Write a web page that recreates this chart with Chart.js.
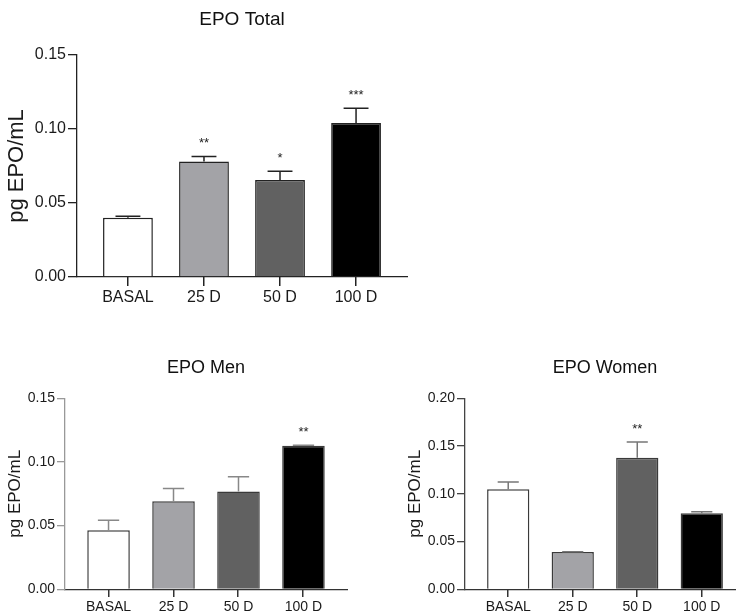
<!DOCTYPE html>
<html>
<head>
<meta charset="utf-8">
<title>EPO</title>
<script src="https://cdn.jsdelivr.net/npm/chart.js@4.4.1/dist/chart.umd.min.js"></script>
<style>
  html, body { margin: 0; padding: 0; background: #fff; overflow: hidden; width: 736px; height: 613px; }
  canvas { position: absolute; }
</style>
</head>
<body>
<canvas id="chartTotal" width="430" height="310" style="left:0;top:0"></canvas>
<canvas id="chartMen" width="360" height="263" style="left:0;top:350px"></canvas>
<canvas id="chartWomen" width="385" height="263" style="left:380px;top:350px"></canvas>
<script>
// grupos e valores
const groups = ['BASAL', '25 D', '50 D', '100 D'];

const totalMeans = [0.040, 0.078, 0.0655, 0.104];
const totalErrors = [0.001, 0.0035, 0.006, 0.010];
const totalStars = ['', '**', '*', '***'];
const totalTicks = [0, 0.05, 0.10, 0.15];

const menMeans = [0.0463, 0.0692, 0.0768, 0.1127];
const menErrors = [0.008, 0.010, 0.0115, 0.0005];
const menStars = ['', '', '', '**'];
const menTicks = [0, 0.05, 0.10, 0.15];

const womenMeans = [0.1047, 0.0391, 0.1378, 0.0796];
const womenErrors = [0.0077, 0.0003, 0.0164, 0.0017];
const womenStars = ['', '', '**', ''];
const womenTicks = [0, 0.05, 0.10, 0.15, 0.20];

const barColors = ['#ffffff', '#a3a3a7', '#616161', '#000000'];

Chart.defaults.font.family = "'Liberation Sans', Arial, sans-serif";
Chart.defaults.color = '#1a1a1a';

// barras de erro (só para cima), asteriscos e marcas do eixo x
const errorBars = {
    id: 'errorBars',
    afterDatasetsDraw(chart, args, opts) {
        const ctx = chart.ctx;
        const ds = chart.data.datasets[0];
        const yScale = chart.scales.y;
        ctx.save();
        ctx.strokeStyle = opts.color;
        ctx.lineWidth = opts.width;
        chart.getDatasetMeta(0).data.forEach((bar, i) => {
            const top = yScale.getPixelForValue(ds.means[i] + ds.errors[i]);
            const half = bar.width / 4;
            ctx.beginPath();
            ctx.moveTo(bar.x, bar.y);
            ctx.lineTo(bar.x, top);
            ctx.moveTo(bar.x - half, top);
            ctx.lineTo(bar.x + half, top);
            ctx.stroke();
            if (ds.stars[i]) {
                ctx.fillStyle = '#222';
                ctx.font = opts.starSize + "px 'Liberation Sans', Arial, sans-serif";
                ctx.textAlign = 'center';
                ctx.textBaseline = 'middle';
                ctx.fillText(ds.stars[i], bar.x, top - opts.starGap);
            }
        });
        ctx.restore();
    },
    afterDraw(chart, args, opts) {
        // marcas do eixo x, uma por grupo
        const ctx = chart.ctx;
        const xScale = chart.scales.x;
        const y0 = Math.round(chart.chartArea.bottom);
        ctx.save();
        ctx.fillStyle = opts.tickColor;
        groups.forEach((g, i) => {
            const px = Math.round(xScale.getPixelForValue(i));
            ctx.fillRect(px - 1, y0, 1.5, opts.tickLen);
        });
        ctx.restore();
    }
};

function drawPanel(id, s) {
    return new Chart(document.getElementById(id), {
        type: 'bar',
        data: {
            datasets: [{
                data: s.means.map((v, i) => ({ x: i, y: v })),
                means: s.means,
                errors: s.errors,
                stars: s.stars,
                backgroundColor: barColors,
                borderColor: s.barBorder,
                borderWidth: 1.5,
                barPercentage: 1,
                categoryPercentage: 0.655
            }]
        },
        options: {
            responsive: false,
            animation: false,
            layout: { padding: { left: 0, right: s.padRight, top: 0, bottom: 0 } },
            plugins: {
                legend: { display: false },
                tooltip: { enabled: false },
                title: {
                    display: true,
                    text: s.title,
                    fullSize: false,
                    color: '#111',
                    font: { size: s.titleSize, weight: 'normal' },
                    padding: { top: s.titleTop, bottom: s.titleBottom }
                },
                errorBars: { color: s.errColor, width: 1.5, starSize: 13, starGap: 13, tickColor: s.xAxisColor, tickLen: s.tickLen }
            },
            scales: {
                x: {
                    type: 'linear',
                    offset: false,
                    min: -0.67,
                    max: 3.67,
                    afterBuildTicks: axis => { axis.ticks = groups.map((g, i) => ({ value: i })); },
                    afterFit: axis => { axis.height = s.xHeight; },
                    ticks: {
                        callback: v => groups[v],
                        font: { size: s.tickSize },
                        padding: s.xPad,
                        maxRotation: 0,
                        autoSkip: false
                    },
                    grid: { display: false, tickLength: s.tickLen },
                    border: { color: s.xAxisColor, width: 1.3 }
                },
                y: {
                    min: 0,
                    max: s.ticks[s.ticks.length - 1],
                    afterBuildTicks: axis => { axis.ticks = s.ticks.map(v => ({ value: v })); },
                    afterFit: axis => { axis.width = s.yWidth; },
                    ticks: {
                        callback: v => v.toFixed(2),
                        font: { size: s.tickSize },
                        padding: 2
                    },
                    grid: { drawOnChartArea: false, tickLength: s.tickLen, color: s.yAxisColor, lineWidth: 1.3 },
                    border: { color: s.yAxisColor, width: 1.3 },
                    title: {
                        display: true,
                        text: 'pg EPO/mL',
                        font: { size: s.yTitleSize },
                        padding: { top: s.yTitlePad, bottom: 0 }
                    }
                }
            }
        },
        plugins: [errorBars]
    });
}

window.onload = function() {
    drawPanel('chartTotal', {
        title: 'EPO Total', means: totalMeans, errors: totalErrors, stars: totalStars, ticks: totalTicks,
        titleSize: 19, titleTop: 8.6, titleBottom: 23.6,
        tickSize: 16, tickLen: 9, xPad: 2, xHeight: 33, yWidth: 77, padRight: 23,
        yTitleSize: 22, yTitlePad: 4,
        barBorder: '#222', errColor: '#222', xAxisColor: '#222', yAxisColor: '#222'
    });
    drawPanel('chartMen', {
        title: 'EPO Men', means: menMeans, errors: menErrors, stars: menStars, ticks: menTicks,
        titleSize: 18, titleTop: 7.2, titleBottom: 19.5,
        tickSize: 14, tickLen: 8, xPad: 1.6, xHeight: 23.7, yWidth: 65, padRight: 13,
        yTitleSize: 17, yTitlePad: 5,
        barBorder: '#3a3a3a', errColor: '#888', xAxisColor: '#333', yAxisColor: '#999'
    });
    drawPanel('chartWomen', {
        title: 'EPO Women', means: womenMeans, errors: womenErrors, stars: womenStars, ticks: womenTicks,
        titleSize: 18, titleTop: 7.2, titleBottom: 19.5,
        tickSize: 14, tickLen: 8, xPad: 1.6, xHeight: 23.7, yWidth: 85, padRight: 20,
        yTitleSize: 17, yTitlePad: 25,
        barBorder: '#3a3a3a', errColor: '#777', xAxisColor: '#333', yAxisColor: '#444'
    });
};
</script>
</body>
</html>
